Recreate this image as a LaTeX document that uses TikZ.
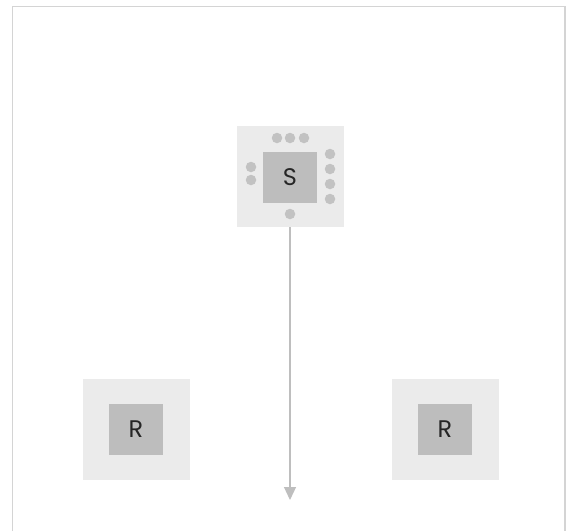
\documentclass[tikz,border=0pt]{standalone}
\usepackage{fontspec}
\setmainfont{Poppins}
\usetikzlibrary{arrows.meta}
\definecolor{outerfill}{HTML}{EBEBEB}
\definecolor{innerfill}{HTML}{BDBDBD}
\definecolor{dotfill}{HTML}{C2C2C2}
\definecolor{framegray}{HTML}{D4D4D4}
\definecolor{linkgray}{HTML}{BEBEBE}
\begin{document}
\begin{tikzpicture}[x=1pt,y=-1pt,
  outerbox/.style={fill=outerfill,draw=none,minimum width=107pt,minimum height=101pt,inner sep=0pt},
  innerbox/.style={fill=innerfill,draw=none,minimum width=54pt,minimum height=51pt,inner sep=0pt,
    font=\fontsize{24}{24}\selectfont,text=black!85},
  seat/.style={circle,fill=dotfill,draw=none,minimum size=10.5pt,inner sep=0pt},
  link/.style={draw=linkgray,line width=1.2pt,-{Triangle[width=12pt,length=13pt]}}]
\useasboundingbox (0,0) rectangle (568,531);
% outer frame (open at the bottom)
\draw[framegray,line width=1.6pt] (12.5,531) -- (12.5,6.5) -- (565,6.5) -- (565,531);
% sender table with its seats
\node[outerbox] (souter) at (290.5,176.5) {};
\node[innerbox] (s) at (290,177) {S};
\node[seat] (t1) at (277,138) {};
\node[seat] (t2) at (290,138) {};
\node[seat] (t3) at (304,138) {};
\node[seat] (l1) at (251,167) {};
\node[seat] (l2) at (251,180) {};
\node[seat] (r1) at (330,154) {};
\node[seat] (r2) at (330,169) {};
\node[seat] (r3) at (330,184) {};
\node[seat] (r4) at (330,199) {};
\node[seat] (b1) at (290,214) {};
% receiver tables
\node[outerbox] (rlouter) at (136.5,429.5) {};
\node[innerbox] (rl) at (136,429.5) {R};
\node[outerbox] (rrouter) at (445.5,429.5) {};
\node[innerbox] (rr) at (445,429.5) {R};
% arrow from the sender table downward
\coordinate (end) at (290,500);
\draw[link] (souter.south -| b1) -- (end);
\end{tikzpicture}
\end{document}
